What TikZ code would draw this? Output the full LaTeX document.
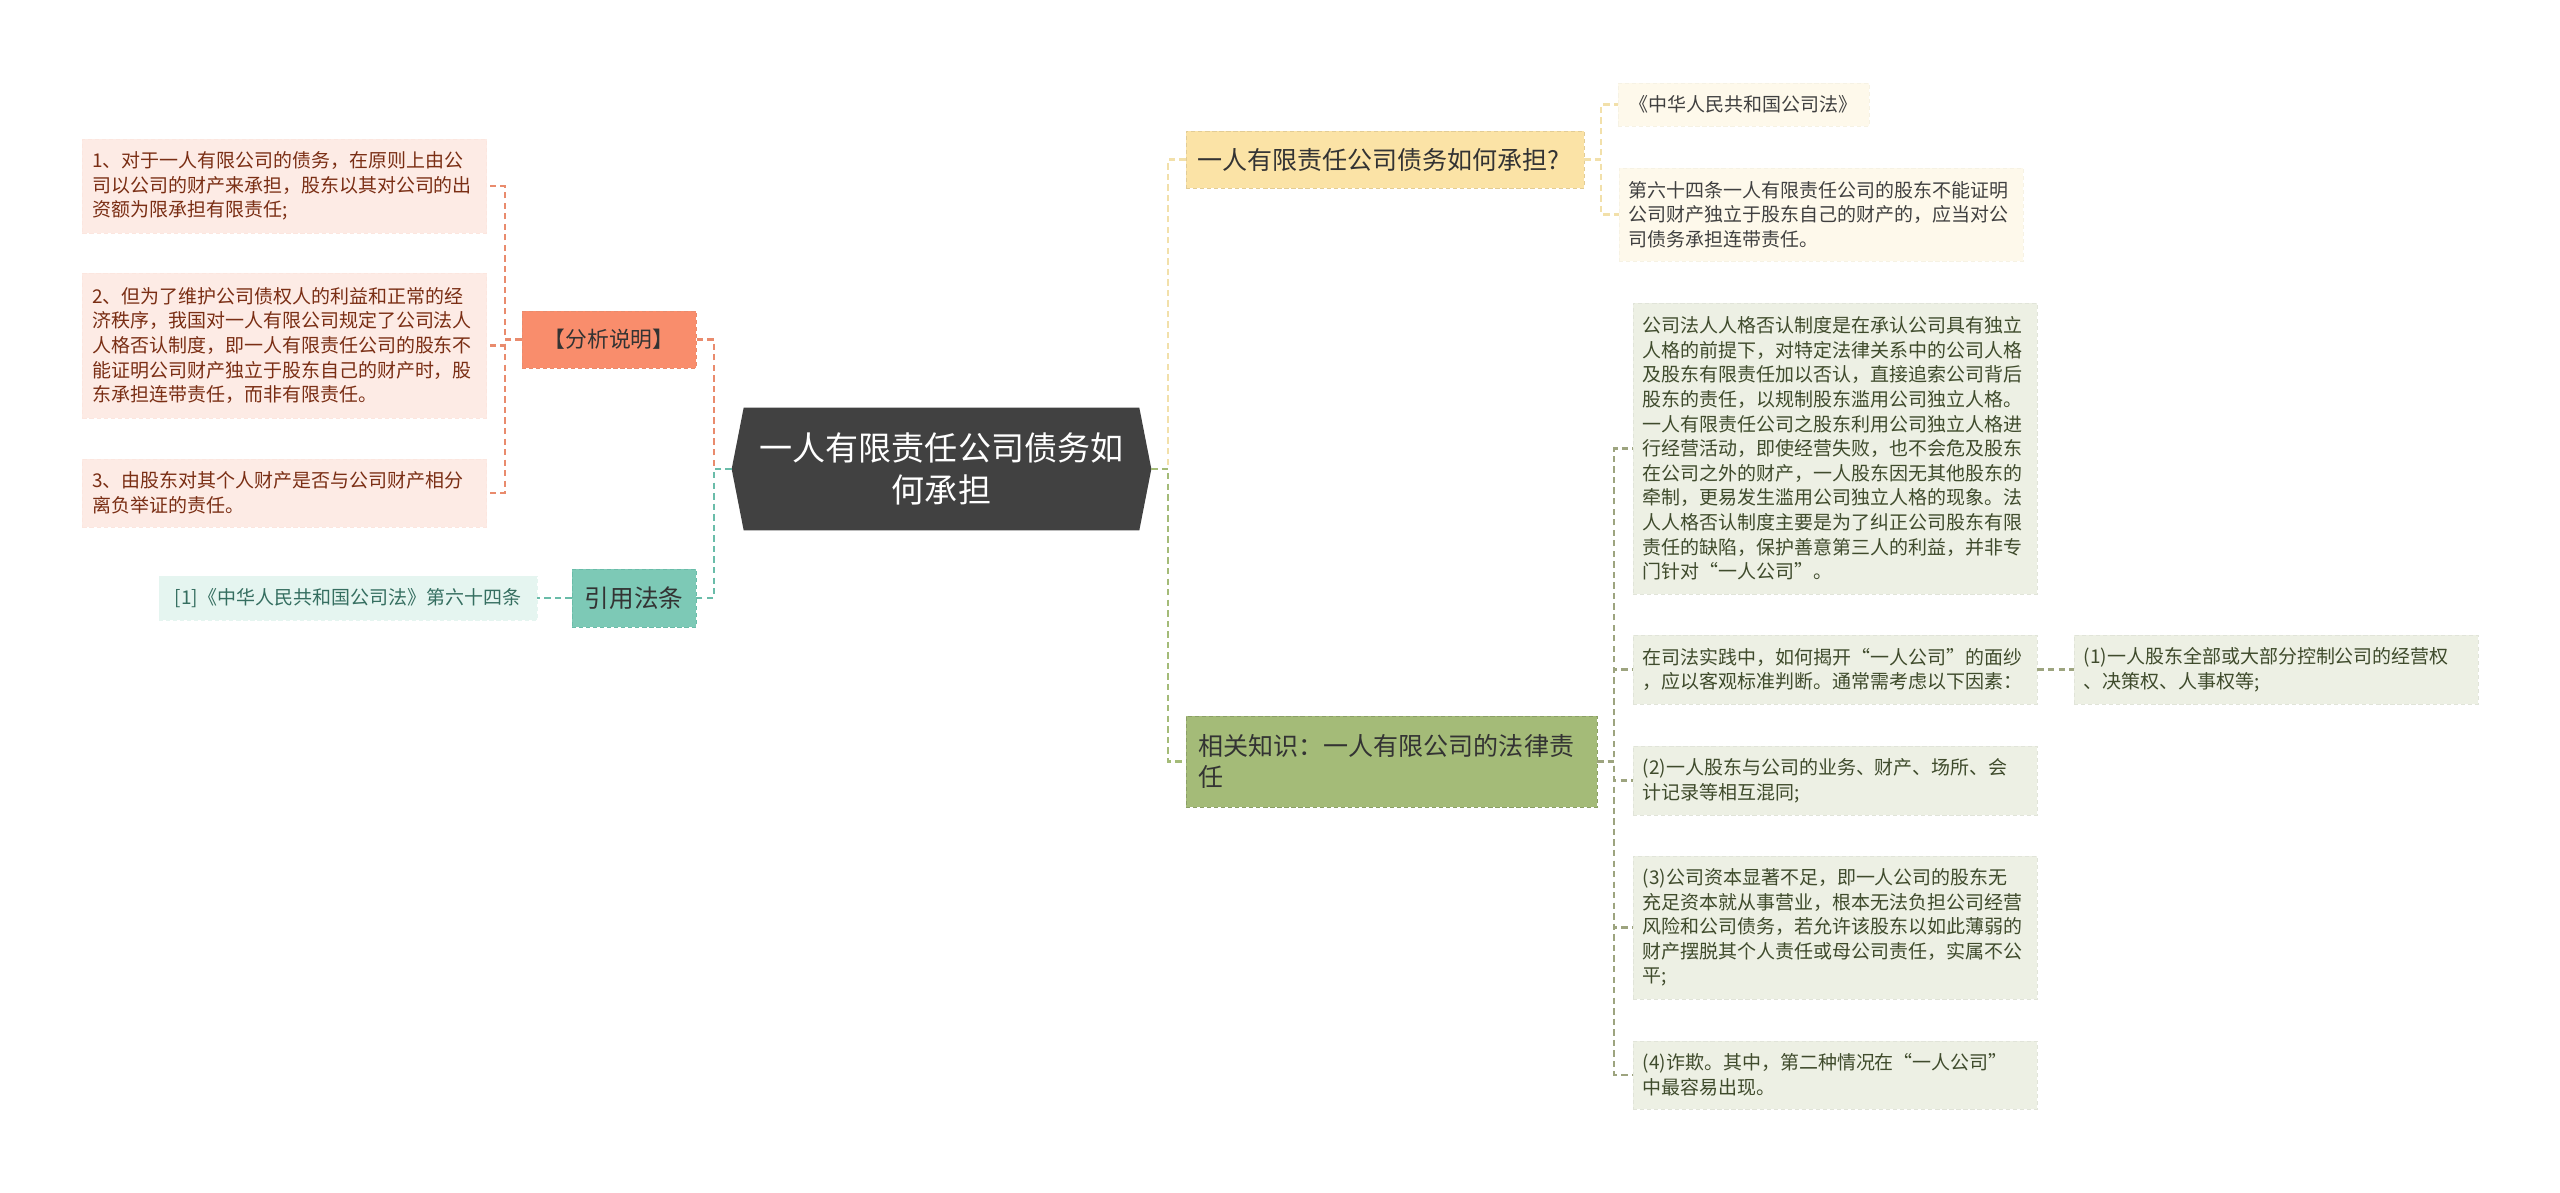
\documentclass[tikz,border=0pt]{standalone}
\usepackage{fontspec}
\setmainfont{Noto Sans CJK SC}
\usepackage{tikz}
\usetikzlibrary{backgrounds}
% colours of the four branches
\definecolor{coreFill}{HTML}{414141}
\definecolor{pFill}{HTML}{F98D6C}
\definecolor{pLeaf}{HTML}{FDEBE5}
\definecolor{pText}{HTML}{7A2E14}
\definecolor{pLine}{HTML}{E98B6D}
\definecolor{tFill}{HTML}{7DC9B6}
\definecolor{tLeaf}{HTML}{E5F5F0}
\definecolor{tText}{HTML}{356E60}
\definecolor{tLine}{HTML}{6ABCA9}
\definecolor{yFill}{HTML}{FBE3A6}
\definecolor{yLeaf}{HTML}{FEF9EB}
\definecolor{yLine}{HTML}{F2E0AA}
\definecolor{gFill}{HTML}{A4BB78}
\definecolor{gLeaf}{HTML}{EDF0E4}
\definecolor{gText}{HTML}{3F4B2C}
\definecolor{gLine}{HTML}{9DA47F}
\tikzset{
  boxline/.style={ dash pattern=on 3pt off 2pt, line width=0.5pt }
}
\tikzset{
  core/.style={ text=white, align=center, inner sep=0pt, minimum width=10.475cm, minimum height=3.05cm,
    font=\fontsize{23.5}{30}\selectfont }
}
\tikzset{
  mainP/.style={ boxline, draw=pLine, fill=pFill, text=black!80, minimum width=4.35cm, minimum height=1.425cm,
    font=\fontsize{15.5}{20}\selectfont }
}
\tikzset{
  mainT/.style={ boxline, draw=tLine, fill=tFill, text=black!80, minimum width=3.1cm, minimum height=1.45cm,
    font=\fontsize{17.5}{22}\selectfont }
}
\tikzset{
  mainY/.style={ boxline, draw=yFill!90!black, fill=yFill, text=black!80, align=left, inner xsep=8pt,
    text width=9.95cm-16pt, minimum height=1.425cm, font=\fontsize{17.8}{22.5}\selectfont }
}
\tikzset{
  mainG/.style={ boxline, draw=gFill!85!black, fill=gFill, text=black!80, align=left, inner xsep=9pt,
    text width=10.275cm-18pt, font=\fontsize{17.8}{22.5}\selectfont }
}
\tikzset{
  leaf/.style={ boxline, align=left, inner xsep=7pt, text width=10.1cm-14pt,
    font=\fontsize{13.5}{17.5}\selectfont }
}
\tikzset{
  leafP/.style={ leaf, draw=pLeaf!95!pLine, fill=pLeaf, text=pText }
}
\tikzset{
  leafT/.style={ boxline, draw=tLeaf, fill=tLeaf, text=tText, minimum width=9.45cm, minimum height=1.1cm,
    font=\fontsize{13.5}{17.5}\selectfont }
}
\tikzset{
  leafY/.style={ leaf, draw=yLeaf!97!black, fill=yLeaf, text=black!75 }
}
\tikzset{
  leafG/.style={ leaf, draw=gLeaf!95!black, fill=gLeaf, text=gText }
}
\tikzset{
  lineP/.style={ draw=pLine, line width=1.5pt, dash pattern=on 4.5pt off 3pt }
}
\tikzset{
  lineT/.style={ lineP, draw=tLine }
}
\tikzset{
  lineY/.style={ lineP, draw=yLine }
}
\tikzset{
  lineG/.style={ lineP, draw=gFill }
}
\tikzset{
  lineL/.style={ lineP, draw=gLine }
}

\begin{document}
\begin{tikzpicture}[x=0.025cm, y=-0.025cm]
  \useasboundingbox (0,0) rectangle (2560,1192);

  \node[core] (ctr) at (941.5,469) {一人有限责任公司债务如\\何承担};
  \begin{scope}[on background layer]
    \fill[coreFill] ([xshift=0.3cm]ctr.north west) -- (ctr.west) -- ([xshift=0.3cm]ctr.south west)
      -- ([xshift=-0.3cm]ctr.south east) -- (ctr.east) -- ([xshift=-0.3cm]ctr.north east) -- cycle;
  \end{scope}

  \node[mainP] (ana) at (609,339.5) {【分析说明】};
  \node[leafP, minimum height=2.35cm] (pA1) at (284.5,186)
    {1、对于一人有限公司的债务，在原则上由公\\司以公司的财产来承担，股东以其对公司的出\\资额为限承担有限责任;};
  \node[leafP, minimum height=3.625cm] (pA2) at (284.5,345.5)
    {2、但为了维护公司债权人的利益和正常的经\\济秩序，我国对一人有限公司规定了公司法人\\人格否认制度，即一人有限责任公司的股东不\\能证明公司财产独立于股东自己的财产时，股\\东承担连带责任，而非有限责任。};
  \node[leafP, minimum height=1.7cm] (pA3) at (284.5,493)
    {3、由股东对其个人财产是否与公司财产相分\\离负举证的责任。};

  \node[mainT] (cite) at (634,598) {引用法条};
  \node[leafT] (law) at (348,598) {[1]《中华人民共和国公司法》第六十四条};

  \node[mainY] (how) at (1385,159.5) {一人有限责任公司债务如何承担?};
  \node[leafY, text width=, minimum width=6.275cm, minimum height=1.075cm] (act) at (1743.5,104.5)
    {《中华人民共和国公司法》};
  \node[leafY, minimum height=2.325cm] (art) at (1821,214.5)
    {第六十四条一人有限责任公司的股东不能证明\\公司财产独立于股东自己的财产的，应当对公\\司债务承担连带责任。};

  \node[mainG, minimum height=2.275cm] (know) at (1391.5,761.5) {相关知识：一人有限公司的法律责\\任};
  \node[leafG, minimum height=7.275cm] (g1) at (1835,448.5)
    {公司法人人格否认制度是在承认公司具有独立\\人格的前提下，对特定法律关系中的公司人格\\及股东有限责任加以否认，直接追索公司背后\\股东的责任，以规制股东滥用公司独立人格。\\一人有限责任公司之股东利用公司独立人格进\\行经营活动，即使经营失败，也不会危及股东\\在公司之外的财产，一人股东因无其他股东的\\牵制，更易发生滥用公司独立人格的现象。法\\人人格否认制度主要是为了纠正公司股东有限\\责任的缺陷，保护善意第三人的利益，并非专\\门针对“一人公司”。};
  \node[leafG, minimum height=1.725cm] (g2) at (1835,669.5)
    {在司法实践中，如何揭开“一人公司”的面纱\\，应以客观标准判断。通常需考虑以下因素：};
  \node[leafG, minimum height=1.725cm] (g2a) at (2276,669.5)
    {(1)一人股东全部或大部分控制公司的经营权\\、决策权、人事权等;};
  \node[leafG, minimum height=1.725cm] (g3) at (1835,780.5)
    {(2)一人股东与公司的业务、财产、场所、会\\计记录等相互混同;};
  \node[leafG, minimum height=3.575cm] (g4) at (1835,927.5)
    {(3)公司资本显著不足，即一人公司的股东无\\充足资本就从事营业，根本无法负担公司经营\\风险和公司债务，若允许该股东以如此薄弱的\\财产摆脱其个人责任或母公司责任，实属不公\\平;};
  \node[leafG, minimum height=1.7cm] (g5) at (1835,1075)
    {(4)诈欺。其中，第二种情况在“一人公司”\\中最容易出现。};

  \draw[lineP] (ana.west) -- ++(-17,0) |- (pA1.east);
  \draw[lineP] (ana.west) -- ++(-17,0) |- (pA2.east);
  \draw[lineP] (ana.west) -- ++(-17,0) |- (pA3.east);
  \draw[lineP] (ctr.west) -- ++(-18,0) |- (ana.east);
  \draw[lineT] (ctr.west) -- ++(-18,0) |- (cite.east);
  \draw[lineT] (cite.west) -- (law.east);

  \draw[lineY] (ctr.east) -- ++(17,0) |- (how.west);
  \draw[lineG] (ctr.east) -- ++(17,0) |- (know.west);
  \draw[lineY] (how.east) -- ++(17,0) |- (act.west);
  \draw[lineY] (how.east) -- ++(17,0) |- (art.west);

  \draw[lineL] (know.east) -- ++(17,0) |- (g1.west);
  \draw[lineL] (know.east) -- ++(17,0) |- (g2.west);
  \draw[lineL] (know.east) -- ++(17,0) |- (g3.west);
  \draw[lineL] (know.east) -- ++(17,0) |- (g4.west);
  \draw[lineL] (know.east) -- ++(17,0) |- (g5.west);
  \draw[lineL] (g2.east) -- (g2a.west);
\end{tikzpicture}
\end{document}
